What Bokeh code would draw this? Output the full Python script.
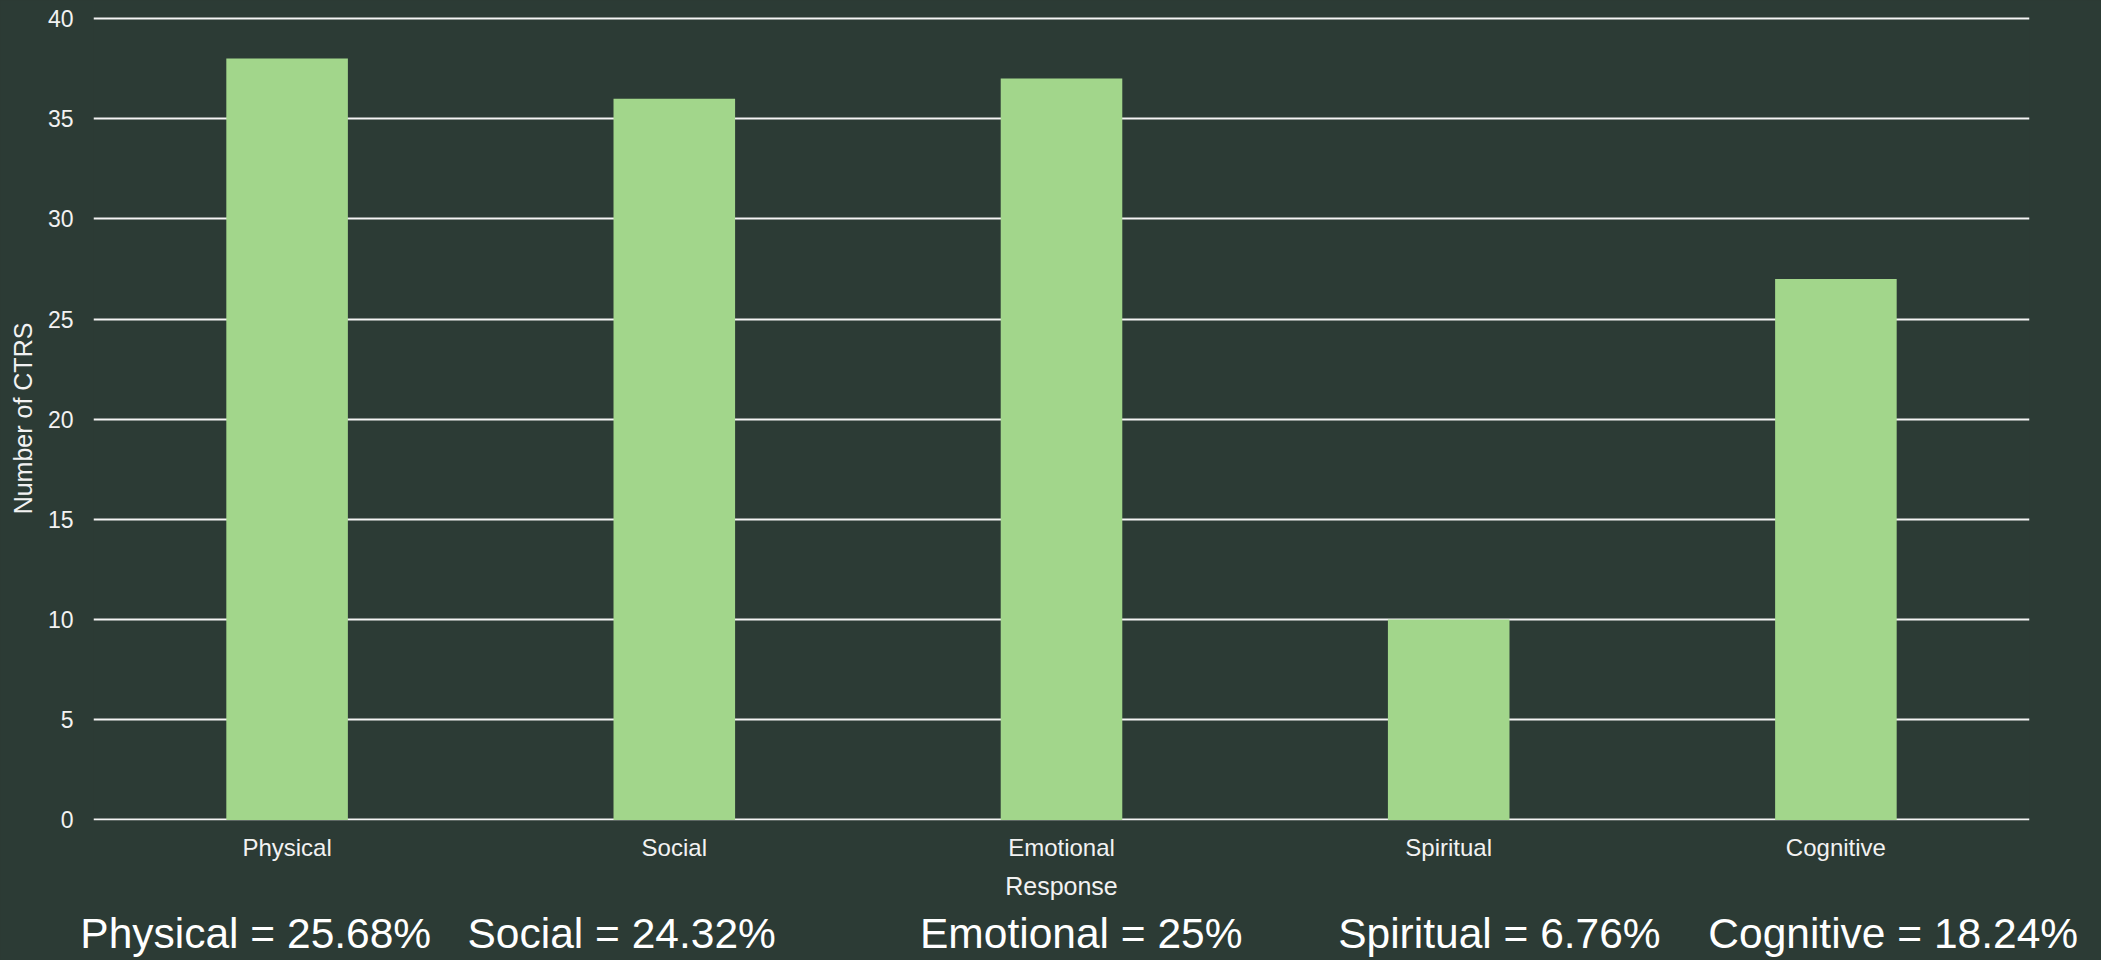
from bokeh.plotting import figure
from bokeh.models import ColumnDataSource, FixedTicker, Range1d, LinearAxis
from bokeh.embed import file_html
from bokeh.resources import INLINE

categories = ["Physical", "Social", "Emotional", "Spiritual", "Cognitive"]
counts = [38, 36, 37, 10, 27]
percent_labels = ["Physical = 25.68%", "Social = 24.32%", "Emotional = 25%",
                  "Spiritual = 6.76%", "Cognitive = 18.24%"]
y_ticks = [0, 5, 10, 15, 20, 25, 30, 35, 40]

# layout positions (category units) for the summary texts under the chart
summary_x = [0.419, 1.364, 2.551, 3.631, 4.648]

BG = "#2c3b35"
BAR = "#a2d68b"
TXT = "#f2f2f2"
FONT = "Liberation Sans"

xpos = [i + 0.5 for i in range(len(categories))]
src = ColumnDataSource(dict(x=xpos, top=counts, name=categories))

p = figure(width=2101, height=960, output_backend="svg", toolbar_location=None,
           x_range=Range1d(0, len(categories)), y_range=Range1d(-0.03, 40.1),
           min_border_left=93, min_border_right=72, min_border_top=16,
           min_border_bottom=140)
p.styles = {"position": "absolute", "left": "0px", "top": "0px",
            "background-color": BG}
p.background_fill_color = BG
p.border_fill_color = BG
p.outline_line_color = None
p.outline_line_alpha = 0
p.outline_line_width = 0

p.vbar(x="x", top="top", width=0.314, bottom=0, source=src,
       fill_color=BAR, line_color=None)

# grids
p.xgrid.visible = False
p.xgrid.grid_line_color = None
p.ygrid.ticker = FixedTicker(ticks=y_ticks)
p.ygrid.grid_line_color = "#f4f4f4"
p.ygrid.grid_line_width = 2
p.ygrid.level = "underlay"

# y axis
ya = p.yaxis[0]
ya.ticker = FixedTicker(ticks=y_ticks)
ya.axis_line_color = None
ya.major_tick_line_color = None
ya.minor_tick_line_color = None
ya.major_tick_out = 0
ya.major_label_standoff = 20
ya.major_label_text_font = FONT
ya.major_label_text_font_size = "23px"
ya.major_label_text_color = TXT
ya.axis_label = "Number of CTRS"
ya.axis_label_text_font = FONT
ya.axis_label_text_font_size = "25px"
ya.axis_label_text_font_style = "normal"
ya.axis_label_text_color = TXT
ya.axis_label_standoff = 8

# x axis
xa = p.xaxis[0]
xa.ticker = FixedTicker(ticks=xpos)
xa.major_label_overrides = {x: c for x, c in zip(xpos, categories)}
xa.axis_line_color = None
xa.major_tick_line_color = None
xa.minor_tick_line_color = None
xa.major_tick_out = 0
xa.major_label_standoff = 13
xa.major_label_text_font = FONT
xa.major_label_text_font_size = "24px"
xa.major_label_text_color = TXT
xa.axis_label = "Response"
xa.axis_label_text_font = FONT
xa.axis_label_text_font_size = "25px"
xa.axis_label_text_font_style = "normal"
xa.axis_label_text_color = TXT
xa.axis_label_standoff = 8

# summary line as a second, label-only axis below
sa = LinearAxis(ticker=FixedTicker(ticks=summary_x),
                major_label_overrides={x: t for x, t in zip(summary_x, percent_labels)})
sa.axis_line_color = None
sa.major_tick_line_color = None
sa.minor_tick_line_color = None
sa.major_tick_out = 0
sa.major_tick_in = 0
sa.major_label_standoff = 7
sa.major_label_text_font = FONT
sa.major_label_text_font_size = "42.5px"
sa.major_label_text_color = "#ffffff"
p.add_layout(sa, "below")

open("out.html", "w").write(file_html(p, INLINE))
